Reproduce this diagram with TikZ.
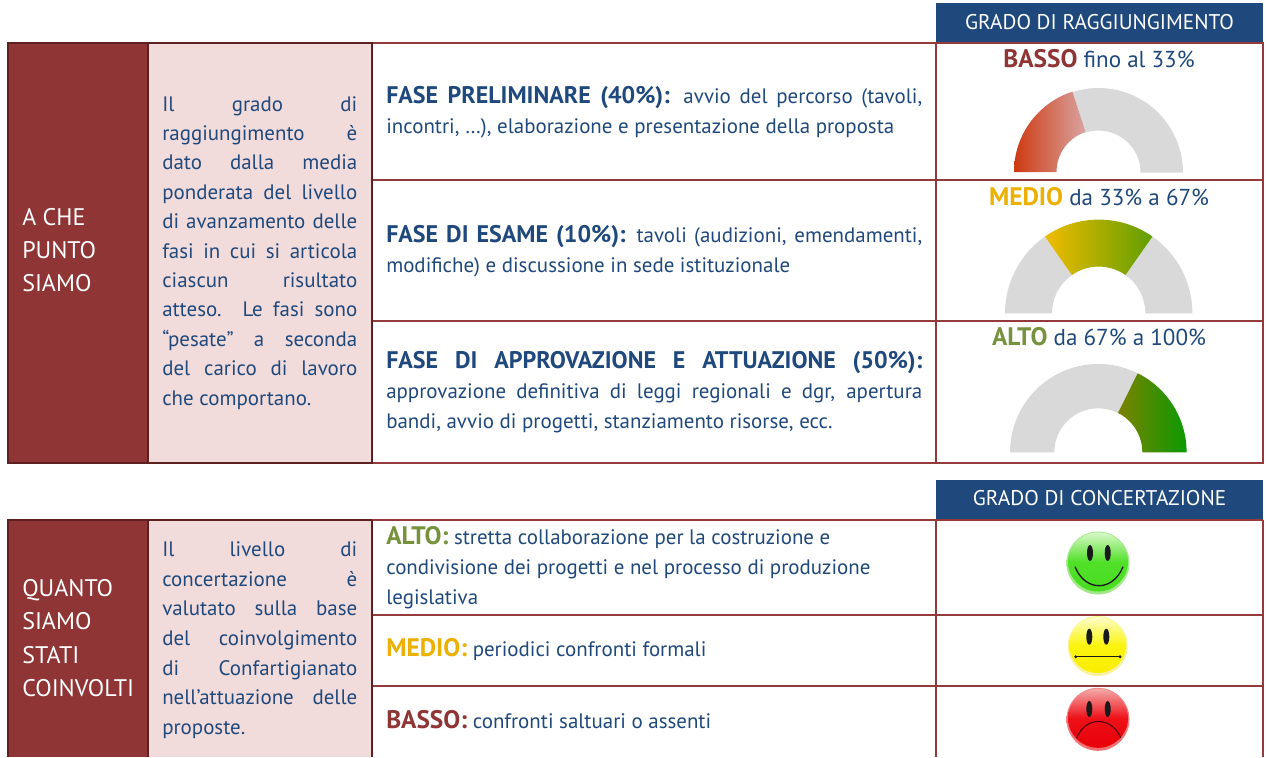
\documentclass[tikz,border=0pt]{standalone}
\usepackage{fontspec}
\setmainfont{PT Sans}
\definecolor{wine}{HTML}{903535}
\definecolor{winedark}{HTML}{5E2020}
\definecolor{winerule}{HTML}{943A3A}
\definecolor{pinkcell}{HTML}{F2DCDB}
\definecolor{navy}{HTML}{1F497D}
\definecolor{amber}{HTML}{EBB000}
\definecolor{olive}{HTML}{76923C}
\definecolor{gaugegray}{HTML}{D9D9D9}
\definecolor{gaOneL}{HTML}{CD3A12}
\definecolor{gaOneR}{HTML}{D9A3A0}
\definecolor{gaTwoL}{HTML}{F0BC00}
\definecolor{gaTwoR}{HTML}{5F9E00}
\definecolor{gaThreeL}{HTML}{7C8200}
\definecolor{gaThreeR}{HTML}{0A9A00}
\definecolor{grA}{HTML}{A8EC90}
\definecolor{grB}{HTML}{A0E888}
\definecolor{grC}{HTML}{D8F8C8}
\definecolor{grD}{HTML}{48DC20}
\definecolor{grE}{HTML}{50E028}
\definecolor{yeA}{HTML}{FBFB90}
\definecolor{yeB}{HTML}{F8F0A0}
\definecolor{yeC}{HTML}{FDFDC8}
\definecolor{yeD}{HTML}{FAEE00}
\definecolor{yeE}{HTML}{FBF410}
\definecolor{reA}{HTML}{F09090}
\definecolor{reB}{HTML}{F07070}
\definecolor{reC}{HTML}{F4A8A8}
\definecolor{reD}{HTML}{E80008}
\definecolor{reE}{HTML}{EE1018}
\newcommand{\bodyfont}{\fontsize{15.7}{18}\selectfont}
\newcommand{\gaugefont}{\fontsize{17.3}{19}\selectfont}
\newcommand{\leftfont}{\fontsize{18}{20}\selectfont}
\newcommand{\headfont}{\fontsize{15.95}{18}\selectfont}
\newcommand{\boldfont}{\fontsize{19}{20}\selectfont\bfseries}
\newcommand{\fasefont}{\fontsize{18}{20}\selectfont\bfseries}
\newcommand{\pl}[1]{\hbox to 146.25pt{#1}}
\newcommand{\rl}[1]{\hbox to 402pt{#1}}
\newcommand{\gaugesector}[6]{% cx,cy,R,r,a1,a2
  ({#1+#3*cos(#5)},{#2-#3*sin(#5)}) arc[start angle=#5,end angle=#6,radius=#3*0.75pt]
  -- ({#1+#4*cos(#6)},{#2-#4*sin(#6)}) arc[start angle=#6,end angle=#5,radius=#4*0.75pt] -- cycle}
\tikzset{
  x=0.75pt,y=-0.75pt,
  leftcell/.style={draw=winedark,line width=1.5pt,fill=wine},
  pinkbox/.style={draw=winedark,line width=1.2pt,fill=pinkcell},
  rulecell/.style={draw=winerule,line width=1.2pt},
  headcell/.style={fill=navy},
  whitetxt/.style={anchor=base west,inner sep=0pt,text=white,font=\leftfont},
  bluetxt/.style={anchor=base west,inner sep=0pt,text=navy,font=\bodyfont},
  headtxt/.style={anchor=base,inner sep=0pt,text=white,font=\headfont},
  gaugetxt/.style={anchor=base,inner sep=0pt,text=navy,font=\gaugefont},
  eye/.style={fill=black!90},
  mouth/.style={draw=black!90,line width=1pt},
}
\begin{document}
\begin{tikzpicture}
\useasboundingbox (0,0) rectangle (1267,757);
\fill[white] (0,0) rectangle (1267,757);
% top table
\fill[headcell] (936,3) rectangle (1263,43);
\draw[rulecell] (372,43) rectangle (936,463);
\draw[rulecell] (936,43) rectangle (1263,463);
\draw[rulecell] (372,180) -- (1263,180);
\draw[rulecell] (372,321) -- (1263,321);
\draw[leftcell] (8,43) rectangle (148,463);
\draw[pinkbox] (148,43) rectangle (372,463);
% bottom table
\fill[headcell] (936,480) rectangle (1263,520);
\draw[rulecell] (372,520) -- (1263,520);
\draw[rulecell] (372,520) -- (372,757);
\draw[rulecell] (936,520) -- (936,757);
\draw[rulecell] (1263,520) -- (1263,757);
\draw[rulecell] (372,615) -- (1263,615);
\draw[rulecell] (372,686) -- (1263,686);
\draw[leftcell] (8,757) -- (8,520) -- (148,520) -- (148,757);
\fill[wine] (8.8,521) rectangle (147.2,757);
\fill[pinkcell] (148.8,520.8) rectangle (371.2,757);
\draw[winedark,line width=1.2pt] (148,520) -- (372,520);
\draw[winedark,line width=1.2pt] (148,520) -- (148,757);
\draw[winedark,line width=1.2pt] (372,520) -- (372,757);
% left labels
\node[whitetxt] (a1) at (22,225) {A CHE};
\node[whitetxt] (a2) at (22,258) {PUNTO};
\node[whitetxt] (a3) at (22,291) {SIAMO};
\node[whitetxt] (b1) at (22,596) {QUANTO};
\node[whitetxt] (b2) at (22,629) {SIAMO};
\node[whitetxt] (b3) at (22,663) {STATI};
\node[whitetxt] (b4) at (22,696) {COINVOLTI};
% pink text, top
\node[bluetxt] (p1) at (162,111) {\pl{Il grado di}};
\node[bluetxt] (p2) at (162,140.4) {\pl{raggiungimento è}};
\node[bluetxt] (p3) at (162,169.8) {\pl{dato dalla media}};
\node[bluetxt] (p4) at (162,199.2) {\pl{ponderata del livello}};
\node[bluetxt] (p5) at (162,228.6) {\pl{di avanzamento delle}};
\node[bluetxt] (p6) at (162,258) {\pl{fasi in cui si articola}};
\node[bluetxt] (p7) at (162,287.4) {\pl{ciascun risultato}};
\node[bluetxt] (p8) at (162,316.8) {\pl{atteso. Le fasi sono}};
\node[bluetxt] (p9) at (162,346.2) {\pl{“pesate” a seconda}};
\node[bluetxt] (p10) at (162,375.6) {\pl{del carico di lavoro}};
\node[bluetxt] (p11) at (162,405) {che comportano.};
% pink text, bottom
\node[bluetxt] (q1) at (162,556) {\pl{Il livello di}};
\node[bluetxt] (q2) at (162,586) {\pl{concertazione è}};
\node[bluetxt] (q3) at (162,615) {\pl{valutato sulla base}};
\node[bluetxt] (q4) at (162,645) {\pl{del coinvolgimento}};
\node[bluetxt] (q5) at (162,675) {\pl{di Confartigianato}};
\node[bluetxt] (q6) at (162,704) {\pl{nell’attuazione delle}};
\node[bluetxt] (q7) at (162,734) {proposte.};
% middle text, top
\node[bluetxt] (r1) at (386,103) {\rl{{\fasefont FASE PRELIMINARE (40\%):} avvio del percorso (tavoli,}};
\node[bluetxt] (r2) at (386,133) {incontri, …), elaborazione e presentazione della proposta};
\node[bluetxt] (r3) at (386,242) {\rl{{\fasefont FASE DI ESAME (10\%):} tavoli (audizioni, emendamenti,}};
\node[bluetxt] (r4) at (386,272) {modifiche) e discussione in sede istituzionale};
\node[bluetxt] (r5) at (386,368) {\rl{{\fasefont FASE DI APPROVAZIONE E ATTUAZIONE (50\%):}}};
\node[bluetxt] (r6) at (386,398) {\rl{approvazione definitiva di leggi regionali e dgr, apertura}};
\node[bluetxt] (r7) at (386,428) {bandi, avvio di progetti, stanziamento risorse, ecc.};
% middle text, bottom
\node[bluetxt] (s1) at (386,544) {{\boldfont\color{olive}ALTO:} stretta collaborazione per la costruzione e};
\node[bluetxt] (s2) at (386,574) {condivisione dei progetti e nel processo di produzione};
\node[bluetxt] (s3) at (386,604) {legislativa};
\node[bluetxt] (s4) at (386,656) {{\boldfont\color{amber}MEDIO:} periodici confronti formali};
\node[bluetxt] (s5) at (386,728) {{\boldfont\color{wine}BASSO:} confronti saltuari o assenti};
% headers
\node[headtxt] (h1) at (1099.5,29) {GRADO DI RAGGIUNGIMENTO};
\node[headtxt] (h2) at (1099.5,505) {GRADO DI CONCERTAZIONE};
% gauge labels
\node[gaugetxt] (g1) at (1099,67) {{\boldfont\color{wine}BASSO} fino al 33\%};
\node[gaugetxt] (g2) at (1099,205) {{\boldfont\color{amber}MEDIO} da 33\% a 67\%};
\node[gaugetxt] (g3) at (1099,345.5) {{\boldfont\color{olive}ALTO} da 67\% a 100\%};
% gauge 1
\fill[gaugegray] \gaugesector{1098.5}{172.5}{84.5}{42}{0}{108};
\shade[left color=gaOneL,right color=gaOneR] \gaugesector{1098.5}{172}{84.5}{42}{108}{180};
% gauge 2
\fill[gaugegray] \gaugesector{1098.7}{313.3}{93.7}{46.7}{0}{55};
\fill[gaugegray] \gaugesector{1098.7}{313.3}{93.7}{46.7}{125}{180};
\shade[left color=gaTwoL,right color=gaTwoR] \gaugesector{1098.7}{313.3}{93.7}{46.7}{55}{125};
% gauge 3
\fill[gaugegray] \gaugesector{1098.3}{452.3}{88.3}{44}{63.5}{180};
\shade[left color=gaThreeL,right color=gaThreeR] \gaugesector{1098.3}{452.3}{88.3}{44}{0}{63.5};
% green face
\shade[top color=grA,bottom color=grB] (1098,563) circle[radius=31.5*0.75pt];
\shade[top color=grC,bottom color=grD,middle color=grE] (1098,562) ellipse[x radius=30*0.75pt,y radius=29.5*0.75pt];
\fill[eye] (1090,553) ellipse[x radius=3*0.75pt,y radius=8*0.75pt];
\fill[eye] (1107.7,553) ellipse[x radius=3*0.75pt,y radius=8*0.75pt];
\draw[mouth] (1075,566.7) .. controls (1085,592) and (1113,592) .. (1123,566.7);
% yellow face
\shade[top color=yeA,bottom color=yeB] (1097.7,646) circle[radius=30*0.75pt];
\shade[top color=yeC,bottom color=yeD,middle color=yeE] (1097.7,645) ellipse[x radius=28.5*0.75pt,y radius=28*0.75pt];
\fill[eye] (1089.3,636.7) ellipse[x radius=3*0.75pt,y radius=8*0.75pt];
\fill[eye] (1106.3,636.7) ellipse[x radius=3*0.75pt,y radius=8*0.75pt];
\draw[mouth,line width=0.8pt] (1075.7,656.7) -- (1120,656.7);
\fill[black!90] (1075.7,656.7) circle[radius=1.2pt];
\fill[black!90] (1120,656.7) circle[radius=1.2pt];
% red face
\shade[top color=reA,bottom color=reB] (1098,719.3) circle[radius=31.5*0.75pt];
\shade[top color=reC,bottom color=reD,middle color=reE] (1098,718.3) ellipse[x radius=30*0.75pt,y radius=29.5*0.75pt];
\fill[eye] (1089.3,709) ellipse[x radius=3*0.75pt,y radius=8*0.75pt];
\fill[eye] (1107.7,709) ellipse[x radius=3*0.75pt,y radius=8*0.75pt];
\draw[mouth,draw=black!70!red,line width=0.8pt] (1076.7,738) .. controls (1085,716) and (1112,716) .. (1120.7,738);
\end{tikzpicture}
\end{document}
